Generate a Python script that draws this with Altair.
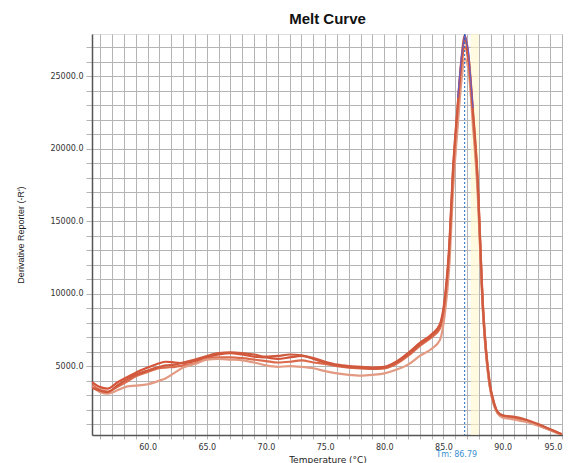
import altair as alt
import pandas as pd

temps = [55.3, 56, 56.6, 57.5, 58.3, 59, 60, 61, 61.5, 62.3, 63, 64, 65, 66, 67, 68, 69, 70,
         71, 72, 73, 74, 75, 76, 77, 78, 79, 80, 81, 82, 83, 84, 84.7, 85.1, 85.5, 85.8,
         86.2, 86.5, 86.8, 87.1, 87.5, 87.85, 88.35, 88.9, 89.3, 89.6, 90, 90.4, 91, 92,
         93, 94, 95]

well_a = [3900, 3550, 3450, 3900, 4250, 4550, 4900, 5200, 5300, 5250, 5200, 5350, 5600, 5800,
          5900, 5800, 5650, 5600, 5500, 5600, 5700, 5550, 5300, 5100, 5000, 4950, 4900, 4950,
          5300, 5900, 6600, 7200, 7900, 9600, 13500, 18500, 23000, 26000, 27800, 26500, 22500,
          18500, 9000, 3900, 2400, 1800, 1600, 1500, 1450, 1250, 950, 650, 300]
well_b = [3700, 3350, 3250, 3600, 3950, 4300, 4600, 4850, 4900, 4950, 5050, 5200, 5500, 5600,
          5600, 5550, 5450, 5350, 5250, 5300, 5400, 5250, 5150, 5000, 4900, 4850, 4800, 4850,
          5150, 5700, 6400, 7000, 7600, 9200, 13000, 18000, 22500, 25500, 27000, 26000, 22000,
          18000, 8700, 3700, 2300, 1750, 1550, 1450, 1400, 1200, 900, 600, 280]
well_c = [3600, 3200, 3100, 3350, 3600, 3650, 3750, 4000, 4150, 4550, 4900, 5150, 5450, 5500,
          5450, 5400, 5250, 5050, 4950, 5000, 4950, 4850, 4650, 4500, 4400, 4350, 4400, 4500,
          4750, 5100, 5700, 6200, 6800, 8500, 12000, 17000, 21500, 24500, 26200, 25500, 21500,
          17500, 8500, 3600, 2200, 1700, 1450, 1400, 1300, 1150, 900, 600, 250]
well_d = [3500, 3300, 3200, 3700, 4100, 4400, 4700, 4950, 5050, 5100, 5250, 5450, 5700, 5900,
          5950, 5900, 5800, 5650, 5700, 5800, 5750, 5500, 5250, 5050, 4950, 4900, 4850, 4900,
          5250, 5800, 6500, 7100, 7800, 9400, 13200, 18300, 22800, 25800, 27500, 26300, 22300,
          18300, 8800, 3800, 2350, 1800, 1600, 1550, 1500, 1300, 1000, 650, 300]

sel_temps = [86.2, 86.5, 86.8, 87.1, 87.5]
sel_vals = [23500, 26300, 27900, 26800, 22800]

tm_value = 86.79

rows = []
for name, vals in [("A", well_a), ("B", well_b), ("C", well_c), ("D", well_d)]:
    for t, v in zip(temps, vals):
        rows.append({"well": name, "temp": t, "val": v})
df = pd.DataFrame(rows)
sel_df = pd.DataFrame({"temp": sel_temps, "val": sel_vals})

W, H = 471, 401
xdom = [55.3, 95.1]
ydom = [250, 27900]

xvals = list(range(56, 96))
yvals = list(range(1000, 28000, 1000))

xscale = alt.Scale(domain=xdom, nice=False, zero=False)
yscale = alt.Scale(domain=ydom, nice=False, zero=False)

xaxis = alt.Axis(values=xvals, grid=True, gridColor="#b4b4b4", gridOpacity=1, gridWidth=1,
                 labelExpr="datum.value % 5 == 0 ? format(datum.value, '.1f') : ''",
                 labelOverlap=False,
                 labelAlign={"expr": "datum.value >= 95 ? 'right' : 'center'"},
                 labelFont="DejaVu Sans", labelFontSize=8, labelColor="#333333",
                 tickColor="#b4b4b4", tickSize=4, domainColor="#555555", domainWidth=1.5,
                 labelPadding=4, title="Temperature (°C)", titleFont="DejaVu Sans",
                 titleFontSize=9, titleFontWeight="normal", titleColor="#222222", titlePadding=4)
yaxis = alt.Axis(values=yvals, grid=True, gridColor="#b4b4b4", gridOpacity=1, gridWidth=1,
                 labelExpr="datum.value % 5000 == 0 ? format(datum.value, '.1f') : ''",
                 labelOverlap=False, labelFont="DejaVu Sans", labelFontSize=8, labelColor="#333333",
                 tickColor="#b4b4b4", tickSize=6, domainColor="#555555", domainWidth=1.5,
                 labelPadding=3, title="Derivative Reporter (-R')", titleFont="Liberation Sans",
                 titleFontSize=9, titleFontWeight="normal", titleColor="#222222", titlePadding=24)

band = alt.Chart(pd.DataFrame({"x0": [87.3], "x1": [88.0]})).mark_rect(
    color="#fff6cc", opacity=0.6).encode(
    x=alt.X("x0:Q", scale=xscale, axis=xaxis), x2="x1:Q")

lines = alt.Chart(df).mark_line(strokeWidth=2.2, interpolate="monotone", clip=True).encode(
    x=alt.X("temp:Q", scale=xscale, axis=xaxis),
    y=alt.Y("val:Q", scale=yscale, axis=yaxis),
    color=alt.Color("well:N", scale=alt.Scale(domain=["A", "B", "C", "D"],
                                              range=["#d4553a", "#dc6a4c", "#e39a82", "#cf5a3e"]),
                    legend=None),
    detail="well:N",
)

sel = alt.Chart(sel_df).mark_line(strokeWidth=1.2, color="#6b5bc4", clip=True).encode(
    x=alt.X("temp:Q", scale=xscale, axis=xaxis), y=alt.Y("val:Q", scale=yscale, axis=yaxis))

tm_rule = alt.Chart(pd.DataFrame({"tm": [tm_value]})).mark_rule(
    color="#1f6fc0", strokeWidth=1, strokeDash=[2, 2]).encode(
    x=alt.X("tm:Q", scale=xscale, axis=xaxis))

tm_text = alt.Chart(pd.DataFrame({"tm": [tm_value], "lab": ["Tm: 86.79"]})).mark_text(
    font="DejaVu Sans", fontSize=8, color="#3a8fd0", dx=-8, clip=False).encode(
    x=alt.X("tm:Q", scale=xscale, axis=xaxis), y=alt.value(H + 20), text="lab:N")

chart = alt.layer(band, lines, sel, tm_rule, tm_text).properties(
    width=W, height=H,
    title=alt.TitleParams("Melt Curve", font="Liberation Sans", fontSize=15, fontWeight="bold",
                          color="#111111", anchor="middle", offset=7),
    padding={"left": 84, "top": 26, "right": 0, "bottom": 28},
    autosize=alt.AutoSizeParams(type="none"),
).configure_view(stroke="#555555", strokeWidth=1.5).configure(background="white")

chart.save("out.html", embed_options={"renderer": "svg", "actions": False})
